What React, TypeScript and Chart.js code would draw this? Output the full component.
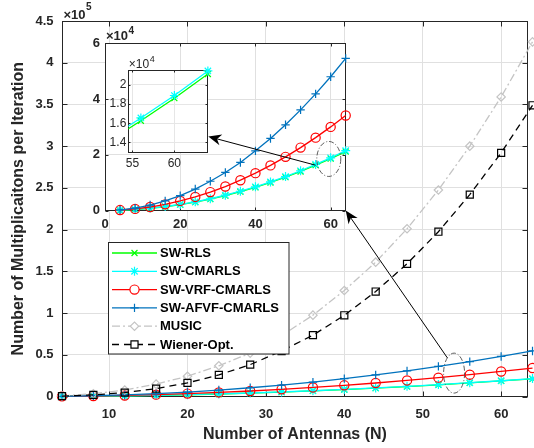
import React, { useEffect, useRef } from 'react';
import { Chart, registerables } from 'chart.js';
import { drawPoint } from 'chart.js/helpers';

Chart.register(...registerables);

const FONT_FAMILY = "'Liberation Sans', Arial, Helvetica, sans-serif";
const INK = '#262626';
const GRID = '#e0e0e0';

// Number of antennas N
const N = [4, 8, 12, 16, 20, 24, 28, 32, 36, 40, 44, 48, 52, 56, 60, 64];

// Multiplications per iteration for each method
const SW_RLS = [90, 340, 760, 1350, 2100, 3000, 4100, 5350, 6750, 8300, 10050, 11950, 14000, 16250, 18620, 21150];
const SW_CMARLS = [110, 380, 820, 1430, 2190, 3110, 4220, 5490, 6910, 8500, 10250, 12180, 14270, 16550, 18900, 21470];
const SW_VRF_CMARLS = [160, 570, 1250, 2200, 3450, 4870, 6600, 8600, 10870, 13400, 16190, 19250, 22570, 26150, 30000, 34100];
const SW_AFVF_CMARLS = [230, 870, 1950, 3450, 5350, 7700, 10500, 13650, 17250, 21400, 25850, 30750, 36100, 41850, 48000, 54600];
const MUSIC = [700, 3300, 7800, 14800, 24300, 36800, 52000, 73000, 97500, 127000, 161000, 201000, 247500, 300000, 359000, 425000];
const WIENER_OPT = [400, 1900, 4700, 9400, 16300, 25900, 38200, 54500, 73500, 97300, 125800, 159000, 197500, 242000, 292000, 349000];

// Tick values
const MAIN_X_TICKS = [10, 20, 30, 40, 50, 60];
const MAIN_Y_TICKS = [0, 50000, 100000, 150000, 200000, 250000, 300000, 350000, 400000, 450000];
const INSET_X_TICKS = [0, 20, 40, 60];
const INSET_Y_TICKS = [0, 20000, 40000, 60000];
const ZOOM_X_TICKS = [55, 60];
const ZOOM_Y_TICKS = [14000, 16000, 18000, 20000];

// Axis ranges
const MAIN_X_RANGE = [4, 63.4];
const MAIN_Y_RANGE = [0, 450000];
const INSET_X_RANGE = [0, 64];
const INSET_Y_RANGE = [0, 60000];
const ZOOM_X_RANGE = [54.5, 64.05];
const ZOOM_Y_RANGE = [12910, 21570];

interface Series {
  label: string;
  values: number[];
  color: string;
  marker: string;
  radius: number;
  dash: number[];
}

const SERIES: Series[] = [
  { label: 'SW-RLS', values: SW_RLS, color: '#00ff00', marker: 'crossRot', radius: 4.2, dash: [] },
  { label: 'SW-CMARLS', values: SW_CMARLS, color: '#00ffff', marker: 'star', radius: 4.5, dash: [] },
  { label: 'SW-VRF-CMARLS', values: SW_VRF_CMARLS, color: '#ff0000', marker: 'circle', radius: 4.6, dash: [] },
  { label: 'SW-AFVF-CMARLS', values: SW_AFVF_CMARLS, color: '#0072bd', marker: 'cross', radius: 4.2, dash: [] },
  { label: 'MUSIC', values: MUSIC, color: '#c4c4c4', marker: 'rectRot', radius: 4.2, dash: [8, 3, 2, 3] },
  { label: 'Wiener-Opt.', values: WIENER_OPT, color: '#000000', marker: 'rect', radius: 5, dash: [7, 5] },
];

// Canvas placement of the three axes (page pixels)
const MAIN_BOX = { left: 0, top: 0, width: 534, height: 448 };
const INSET_BOX = { left: 60, top: 22, width: 300, height: 210 };
const ZOOM_BOX = { left: 100, top: 50, width: 120, height: 125 };

// Legend frame inside the main axes
const LEGEND = { left: 108.5, top: 242.5, right: 289, bottom: 354, firstRow: 253, rowGap: 18.3, lineStart: 112, lineEnd: 157, textX: 160 };

// Callouts: dashed ellipses and arrows pointing to the enlarged views
const MAIN_CALLOUT = { n: 54, value: 28000, rx: 10.5, ry: 20, tailAngle: -130 };
const INSET_CALLOUT = { n: 59.5, value: 18500, rx: 12, ry: 17.5, tailN: 56 };
const ZOOM_ARROW_VALUE = 14600;

const font = (size: number, bold: boolean) => ({ family: FONT_FAMILY, size, weight: bold ? 'bold' : 'normal' });

function toDataset(s: Series, i: number, clip: any) {
  return {
    label: s.label,
    data: N.map((n, k) => ({ x: n, y: s.values[k] })),
    borderColor: s.color,
    backgroundColor: 'rgba(0,0,0,0)',
    borderWidth: 1.3,
    borderDash: s.dash,
    pointStyle: s.marker,
    pointRadius: s.radius,
    pointBorderColor: s.color,
    pointBackgroundColor: 'rgba(0,0,0,0)',
    pointBorderWidth: 1.2,
    tension: 0,
    order: -i,
    clip,
  };
}

function fixedTicks(values: number[]) {
  return (scale: any) => {
    scale.ticks = values.map((v) => ({ value: v }));
  };
}

function drawPower(ctx: CanvasRenderingContext2D, x: number, y: number, exp: string, size: number, supSize: number, rise: number, bold: boolean) {
  ctx.save();
  ctx.fillStyle = INK;
  ctx.textAlign = 'left';
  ctx.textBaseline = 'alphabetic';
  const w = bold ? 'bold ' : '';
  ctx.font = `${w}${size}px ${FONT_FAMILY}`;
  ctx.fillText('×10', x, y);
  const width = ctx.measureText('×10').width;
  ctx.font = `${w}${supSize}px ${FONT_FAMILY}`;
  ctx.fillText(exp, x + width + 0.5, y - rise);
  ctx.restore();
}

// Axes box with inward tick marks, white plot background and the ×10^k label
function framePlugin(cfg: { tickLen: number; exp: string; size: number; supSize: number; rise: number; bold: boolean; dx: number; dy: number }) {
  return {
    id: 'frame',
    beforeDraw(chart: any) {
      const { ctx, chartArea: a } = chart;
      ctx.save();
      ctx.fillStyle = '#ffffff';
      ctx.fillRect(a.left, a.top, a.right - a.left, a.bottom - a.top);
      ctx.restore();
    },
    beforeDatasetsDraw(chart: any) {
      const { ctx, chartArea: a, scales } = chart;
      const L = Math.round(a.left) + 0.5;
      const R = Math.round(a.right) - 0.5;
      const T = Math.round(a.top) + 0.5;
      const B = Math.round(a.bottom) - 0.5;
      ctx.save();
      ctx.strokeStyle = INK;
      ctx.lineWidth = 1;
      ctx.beginPath();
      for (const t of scales.x.ticks) {
        const px = Math.round(scales.x.getPixelForValue(t.value)) + 0.5;
        ctx.moveTo(px, B);
        ctx.lineTo(px, B - cfg.tickLen);
        ctx.moveTo(px, T);
        ctx.lineTo(px, T + cfg.tickLen);
      }
      for (const t of scales.y.ticks) {
        const py = Math.round(scales.y.getPixelForValue(t.value)) + 0.5;
        ctx.moveTo(L, py);
        ctx.lineTo(L + cfg.tickLen, py);
        ctx.moveTo(R, py);
        ctx.lineTo(R - cfg.tickLen, py);
      }
      ctx.stroke();
      ctx.strokeRect(L, T, R - L, B - T);
      ctx.restore();
    },
    afterDraw(chart: any) {
      const a = chart.chartArea;
      drawPower(chart.ctx, a.left + cfg.dx, a.top - cfg.dy, cfg.exp, cfg.size, cfg.supSize, cfg.rise, cfg.bold);
    },
  };
}

const legendPlugin = {
  id: 'boxLegend',
  afterDraw(chart: any) {
    const ctx: CanvasRenderingContext2D = chart.ctx;
    ctx.save();
    ctx.fillStyle = '#ffffff';
    ctx.fillRect(LEGEND.left, LEGEND.top, LEGEND.right - LEGEND.left, LEGEND.bottom - LEGEND.top);
    ctx.strokeStyle = INK;
    ctx.lineWidth = 1;
    ctx.strokeRect(LEGEND.left, LEGEND.top, LEGEND.right - LEGEND.left, LEGEND.bottom - LEGEND.top);
    chart.data.datasets.forEach((ds: any, i: number) => {
      const y = LEGEND.firstRow + i * LEGEND.rowGap;
      ctx.strokeStyle = ds.borderColor;
      ctx.lineWidth = ds.borderWidth;
      ctx.setLineDash(ds.borderDash || []);
      ctx.beginPath();
      ctx.moveTo(LEGEND.lineStart, y);
      ctx.lineTo(LEGEND.lineEnd, y);
      ctx.stroke();
      ctx.setLineDash([]);
      ctx.lineWidth = ds.pointBorderWidth;
      ctx.fillStyle = '#ffffff';
      drawPoint(ctx, { pointStyle: ds.pointStyle, rotation: 0, radius: ds.pointRadius, borderWidth: ds.pointBorderWidth } as any,
        (LEGEND.lineStart + LEGEND.lineEnd) / 2, y);
      ctx.fillStyle = '#000000';
      ctx.font = `bold 13px ${FONT_FAMILY}`;
      ctx.textAlign = 'left';
      ctx.textBaseline = 'middle';
      ctx.fillText(ds.label, LEGEND.textX, y + 0.5);
    });
    ctx.restore();
  },
};

function axisScales(o: any) {
  return {
    x: {
      type: 'linear',
      min: o.xRange[0],
      max: o.xRange[1],
      afterBuildTicks: fixedTicks(o.xTicks),
      afterFit: (s: any) => { s.height = o.xHeight; },
      grid: { color: o.grid, lineWidth: 1, drawTicks: false },
      border: { display: false },
      ticks: { color: INK, font: o.tickFont, padding: o.xPad, maxRotation: 0, autoSkip: false },
      title: o.xTitle ? { display: true, text: o.xTitle, color: INK, font: font(16, true), padding: { top: 0, bottom: 3.9 } } : { display: false },
    },
    y: {
      type: 'linear',
      min: o.yRange[0],
      max: o.yRange[1],
      afterBuildTicks: fixedTicks(o.yTicks),
      afterFit: (s: any) => { s.width = o.yWidth; },
      grid: { color: o.grid, lineWidth: 1, drawTicks: false },
      border: { display: false },
      ticks: { color: INK, font: o.tickFont, padding: o.yPad, autoSkip: false, callback: (v: number) => String(v / o.yDiv) },
      title: o.yTitle ? { display: true, text: o.yTitle, color: INK, font: font(16, true), padding: { top: 9.3, bottom: 0 } } : { display: false },
    },
  };
}

function baseOptions(padding: any, scales: any) {
  return {
    responsive: false,
    animation: false,
    events: [],
    layout: { padding },
    plugins: { legend: { display: false }, tooltip: { enabled: false }, title: { display: false } },
    scales,
  };
}

function ellipse(ctx: CanvasRenderingContext2D, cx: number, cy: number, rx: number, ry: number) {
  ctx.save();
  ctx.strokeStyle = '#4a4a4a';
  ctx.lineWidth = 0.9;
  ctx.setLineDash([5, 2, 1, 2]);
  ctx.beginPath();
  ctx.ellipse(cx, cy, rx, ry, 0, 0, Math.PI * 2);
  ctx.stroke();
  ctx.restore();
}

function arrow(ctx: CanvasRenderingContext2D, x0: number, y0: number, x1: number, y1: number) {
  const ang = Math.atan2(y1 - y0, x1 - x0);
  const len = 13;
  const half = 5.5;
  const notch = 9;
  ctx.save();
  ctx.strokeStyle = '#000000';
  ctx.fillStyle = '#000000';
  ctx.lineWidth = 1;
  ctx.beginPath();
  ctx.moveTo(x0, y0);
  ctx.lineTo(x1 - Math.cos(ang) * notch, y1 - Math.sin(ang) * notch);
  ctx.stroke();
  ctx.translate(x1, y1);
  ctx.rotate(ang);
  ctx.beginPath();
  ctx.moveTo(0, 0);
  ctx.lineTo(-len, -half);
  ctx.lineTo(-notch, 0);
  ctx.lineTo(-len, half);
  ctx.closePath();
  ctx.fill();
  ctx.restore();
}

function drawCallouts(canvas: HTMLCanvasElement, main: any, inset: any, zoom: any) {
  const ctx = canvas.getContext('2d')!;
  ctx.clearRect(0, 0, canvas.width, canvas.height);

  // Main axes: ellipse around the low curves and arrow to the inset corner
  const mx = MAIN_BOX.left + main.scales.x.getPixelForValue(MAIN_CALLOUT.n);
  const my = MAIN_BOX.top + main.scales.y.getPixelForValue(MAIN_CALLOUT.value);
  ellipse(ctx, mx, my, MAIN_CALLOUT.rx, MAIN_CALLOUT.ry);
  const t = (MAIN_CALLOUT.tailAngle * Math.PI) / 180;
  arrow(ctx,
    mx + MAIN_CALLOUT.rx * Math.cos(t), my + MAIN_CALLOUT.ry * Math.sin(t),
    INSET_BOX.left + inset.chartArea.right, INSET_BOX.top + inset.chartArea.bottom);

  // Inset: ellipse around SW-RLS / SW-CMARLS and arrow to the enlarged view
  const ix = INSET_BOX.left + inset.scales.x.getPixelForValue(INSET_CALLOUT.n);
  const iy = INSET_BOX.top + inset.scales.y.getPixelForValue(INSET_CALLOUT.value);
  ellipse(ctx, ix, iy, INSET_CALLOUT.rx, INSET_CALLOUT.ry);
  const k = N.indexOf(INSET_CALLOUT.tailN);
  arrow(ctx,
    INSET_BOX.left + inset.scales.x.getPixelForValue(N[k]), INSET_BOX.top + inset.scales.y.getPixelForValue(SW_RLS[k]),
    ZOOM_BOX.left + zoom.chartArea.right, ZOOM_BOX.top + zoom.scales.y.getPixelForValue(ZOOM_ARROW_VALUE));
}

export default function App() {
  const mainRef = useRef<HTMLCanvasElement>(null);
  const insetRef = useRef<HTMLCanvasElement>(null);
  const zoomRef = useRef<HTMLCanvasElement>(null);
  const overlayRef = useRef<HTMLCanvasElement>(null);

  useEffect(() => {
    const main = new Chart(mainRef.current!, {
      type: 'line',
      data: { datasets: SERIES.map((s, i) => toDataset(s, i, false)) as any },
      options: baseOptions({ top: 21, right: 1, bottom: 0, left: 0 }, axisScales({
        xRange: MAIN_X_RANGE, yRange: MAIN_Y_RANGE, xTicks: MAIN_X_TICKS, yTicks: MAIN_Y_TICKS,
        xHeight: 51.5, yWidth: 62, grid: GRID, tickFont: font(13, true), xPad: 10, yPad: 8.5, yDiv: 1e5,
        xTitle: 'Number of Antennas (N)', yTitle: 'Number of Multiplicaitons per Iteration',
      })) as any,
      plugins: [framePlugin({ tickLen: 5, exp: '5', size: 13, supSize: 10, rise: 9, bold: true, dx: 1.5, dy: 2 }), legendPlugin],
    });

    const inset = new Chart(insetRef.current!, {
      type: 'line',
      data: { datasets: SERIES.slice(0, 4).map((s, i) => toDataset(s, i, false)) as any },
      options: baseOptions({ top: 21.3, right: 14.3, bottom: 0, left: 0 }, axisScales({
        xRange: INSET_X_RANGE, yRange: INSET_Y_RANGE, xTicks: INSET_X_TICKS, yTicks: INSET_Y_TICKS,
        xHeight: 21.5, yWidth: 45, grid: GRID, tickFont: font(13, true), xPad: 6.3, yPad: 5, yDiv: 1e4,
      })) as any,
      plugins: [framePlugin({ tickLen: 3, exp: '4', size: 13, supSize: 10, rise: 6.5, bold: true, dx: 1, dy: 3.3 })],
    });

    const zoom = new Chart(zoomRef.current!, {
      type: 'line',
      data: { datasets: SERIES.slice(0, 2).map((s, i) => toDataset(s, i, { left: 0, top: 8, right: 8, bottom: 0 })) as any },
      options: baseOptions({ top: 20, right: 11.7, bottom: 0, left: 0 }, axisScales({
        xRange: ZOOM_X_RANGE, yRange: ZOOM_Y_RANGE, xTicks: ZOOM_X_TICKS, yTicks: ZOOM_Y_TICKS,
        xHeight: 22.3, yWidth: 28.3, grid: '#e6e6e6', tickFont: font(12, false), xPad: 3.6, yPad: 2, yDiv: 1e4,
      })) as any,
      plugins: [framePlugin({ tickLen: 2, exp: '4', size: 12, supSize: 9, rise: 6, bold: false, dx: 0.5, dy: 2 })],
    });

    drawCallouts(overlayRef.current!, main, inset, zoom);

    return () => {
      main.destroy();
      inset.destroy();
      zoom.destroy();
    };
  }, []);

  const place = (b: { left: number; top: number }) => ({ position: 'absolute' as const, left: b.left, top: b.top });

  return (
    <div style={{ position: 'fixed', left: 0, top: 0, width: 534, height: 448, background: '#ffffff', overflow: 'hidden' }}>
      <canvas ref={mainRef} width={MAIN_BOX.width} height={MAIN_BOX.height} style={place(MAIN_BOX)} />
      <canvas ref={insetRef} width={INSET_BOX.width} height={INSET_BOX.height} style={place(INSET_BOX)} />
      <canvas ref={zoomRef} width={ZOOM_BOX.width} height={ZOOM_BOX.height} style={place(ZOOM_BOX)} />
      <canvas ref={overlayRef} width={534} height={448} style={{ ...place({ left: 0, top: 0 }), pointerEvents: 'none' }} />
    </div>
  );
}
